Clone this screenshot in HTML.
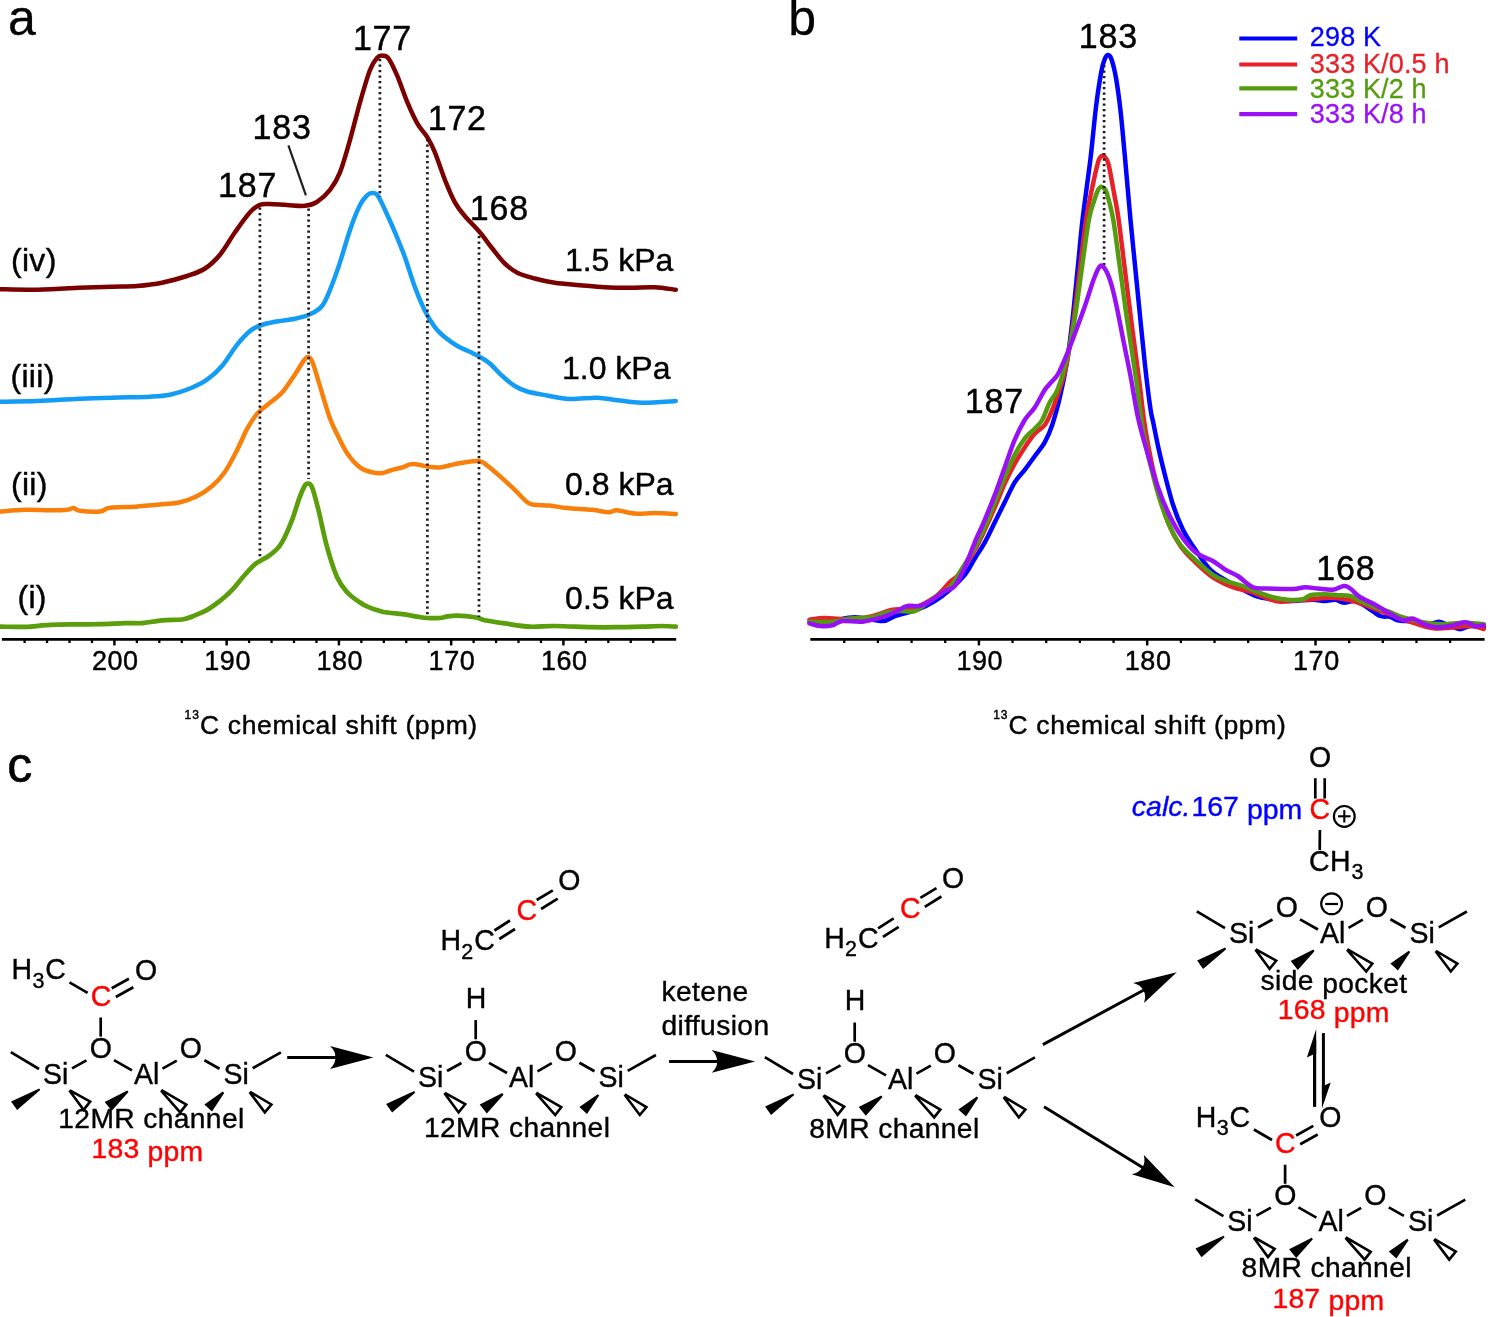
<!DOCTYPE html>
<html lang="en"><head><meta charset="utf-8"><title>13C NMR spectra and ketene reaction scheme</title>
<style>
html,body{margin:0;padding:0;background:#fff;}
body{width:1490px;height:1317px;overflow:hidden;}
svg{display:block;}
svg text{font-family:"Liberation Sans", Arial, Helvetica, sans-serif;}
</style></head><body>
<svg width="1490" height="1317" viewBox="0 0 1490 1317">
<rect width="1490" height="1317" fill="#fff"/>
<g opacity="0.999">
<g id="panelA">
<path d="M0.0,626.6C4.2,626.6 16.7,627.2 25.0,626.9C33.3,626.6 41.7,625.3 50.0,624.9C58.3,624.5 66.7,624.5 75.0,624.4C83.3,624.3 91.7,624.3 100.0,624.1C108.3,623.9 118.0,623.3 125.0,623.1C132.1,622.9 136.1,623.6 142.3,623.1C148.5,622.6 155.4,621.0 162.3,620.4C169.2,619.8 178.1,620.0 183.5,619.2C188.9,618.4 190.9,617.0 194.8,615.4C198.8,613.8 203.0,612.3 207.2,609.9C211.3,607.5 215.5,604.5 219.7,601.2C223.9,597.9 228.0,594.3 232.2,589.9C236.4,585.5 240.9,579.2 244.7,575.0C248.4,570.8 252.0,566.9 254.7,564.5C257.4,562.1 258.8,561.8 260.9,560.5C263.0,559.2 264.9,558.5 267.2,557.0C269.5,555.5 272.2,553.7 274.7,551.2C277.2,548.7 279.2,547.4 282.1,542.2C285.0,537.0 289.2,527.3 292.1,519.8C295.0,512.3 297.5,502.9 299.6,497.3C301.7,491.7 303.3,488.3 304.6,486.0C305.9,483.7 306.4,483.4 307.6,483.6C308.9,483.8 310.3,482.9 312.1,487.3C313.9,491.7 315.9,499.8 318.4,509.8C320.9,519.8 324.0,536.0 327.1,547.2C330.2,558.4 333.8,569.7 337.1,577.2C340.4,584.7 343.4,588.0 347.1,592.2C350.9,596.4 356.2,599.8 359.6,602.2C363.0,604.6 363.7,605.1 367.5,606.7C371.3,608.3 376.6,610.5 382.4,611.7C388.2,613.0 396.6,613.4 402.4,614.2C408.2,615.0 413.2,616.1 417.4,616.7C421.6,617.3 423.6,617.8 427.4,618.0C431.1,618.2 436.6,618.3 439.9,618.0C443.2,617.7 444.5,616.8 447.4,616.4C450.3,616.0 452.7,615.6 457.3,615.7C461.9,615.8 470.2,616.5 474.8,617.2C479.4,618.0 479.8,619.2 484.8,620.2C489.8,621.2 497.3,622.3 504.8,623.4C512.3,624.5 521.5,626.3 529.8,626.7C538.1,627.1 544.3,625.9 554.7,626.0C565.1,626.1 581.8,627.0 592.2,627.2C602.6,627.4 608.8,627.3 617.1,627.2C625.4,627.1 634.6,626.9 642.1,626.7C649.6,626.5 656.5,626.0 662.1,626.0C667.7,626.0 673.5,626.6 675.8,626.7" fill="none" stroke="#5a9e0c" stroke-width="4.7" stroke-linecap="round" stroke-linejoin="round"/>
<path d="M0.0,511.5C4.2,511.2 16.7,510.0 25.0,509.8C33.3,509.6 42.9,510.3 50.0,510.3C57.1,510.3 63.5,510.2 67.4,509.8C71.4,509.4 71.6,507.8 73.7,508.0C75.8,508.2 75.6,510.2 80.0,510.8C84.4,511.4 95.0,512.0 100.0,511.5C105.0,511.0 103.8,508.6 110.0,507.8C116.2,507.0 128.6,507.1 137.3,506.5C146.0,505.9 155.2,505.0 162.3,504.3C169.4,503.6 174.2,503.7 180.0,502.3C185.8,500.9 191.9,498.7 197.3,496.0C202.7,493.3 207.6,489.9 212.2,486.0C216.8,482.1 220.5,478.3 224.7,472.3C228.9,466.3 233.4,457.2 237.2,449.9C240.9,442.6 243.9,434.7 247.2,428.6C250.5,422.6 253.9,417.6 257.2,413.6C260.5,409.7 263.0,408.4 267.2,404.9C271.4,401.4 277.5,397.4 282.1,392.4C286.7,387.4 291.1,380.1 294.6,374.9C298.2,369.7 301.2,364.2 303.4,361.2C305.6,358.2 306.2,357.0 307.6,357.0C309.1,357.0 310.1,356.6 312.1,361.2C314.1,365.8 316.7,375.5 319.6,384.9C322.5,394.3 326.6,409.0 329.6,417.4C332.6,425.8 334.5,428.9 337.5,435.0C340.5,441.1 343.8,448.3 347.5,453.7C351.2,459.1 355.9,464.3 360.0,467.4C364.1,470.5 368.7,471.5 372.4,472.4C376.1,473.3 379.1,473.4 382.4,473.0C385.7,472.6 389.1,470.8 392.4,469.9C395.7,469.0 399.5,468.3 402.4,467.4C405.3,466.5 407.5,464.9 410.0,464.4C412.5,463.9 414.5,464.0 417.4,464.4C420.3,464.8 423.6,466.1 427.4,466.6C431.1,467.1 435.3,467.8 439.9,467.4C444.5,467.0 450.2,465.0 454.8,464.1C459.4,463.2 463.3,462.4 467.3,461.9C471.3,461.4 476.1,460.8 479.0,461.1C481.9,461.4 481.3,461.1 484.8,463.6C488.3,466.1 494.8,471.7 499.8,476.1C504.8,480.5 510.2,485.5 514.8,489.9C519.4,494.3 524.0,499.8 527.3,502.3C530.6,504.8 531.0,504.2 534.7,504.8C538.4,505.4 544.3,505.1 549.7,505.6C555.1,506.2 560.1,507.4 567.2,508.1C574.3,508.8 585.3,509.1 592.2,509.8C599.1,510.5 604.2,512.2 608.4,512.3C612.5,512.4 612.7,510.1 617.1,510.3C621.5,510.5 628.4,513.1 634.6,513.6C640.9,514.1 647.7,513.0 654.6,513.1C661.5,513.2 672.3,513.9 675.8,514.1" fill="none" stroke="#f8800a" stroke-width="4.5" stroke-linecap="round" stroke-linejoin="round"/>
<path d="M0.0,401.7C6.2,401.6 25.0,401.4 37.5,401.0C50.0,400.6 62.5,399.6 75.0,399.0C87.5,398.4 99.9,398.1 112.4,397.7C124.9,397.3 140.4,397.2 150.0,396.7C159.6,396.2 163.3,396.1 170.0,394.7C176.7,393.3 183.8,391.0 190.0,388.5C196.2,386.0 201.7,383.4 207.0,379.7C212.3,375.9 217.0,371.8 222.0,366.0C227.0,360.2 232.3,350.6 237.0,344.8C241.7,339.0 246.2,334.2 250.0,331.0C253.8,327.8 255.8,327.1 260.0,325.6C264.2,324.1 269.2,322.9 275.0,321.8C280.8,320.7 289.2,320.1 295.0,318.8C300.8,317.6 305.5,316.4 310.0,314.3C314.5,312.2 318.7,310.1 322.0,306.0C325.3,301.9 327.0,297.2 330.0,289.9C333.0,282.6 336.7,272.4 340.0,262.4C343.3,252.4 346.7,239.5 350.0,229.9C353.3,220.3 357.1,210.8 360.0,205.0C362.9,199.2 365.5,197.0 367.5,195.0C369.5,193.0 370.4,193.0 372.0,193.0C373.6,193.0 375.2,192.2 377.4,195.0C379.6,197.8 382.1,203.8 385.0,210.0C387.9,216.2 391.7,224.5 395.0,232.4C398.3,240.3 401.7,248.2 405.0,257.4C408.3,266.6 411.7,278.5 415.0,287.4C418.3,296.3 421.7,304.4 425.0,311.0C428.3,317.6 431.7,322.9 435.0,327.3C438.3,331.7 441.3,334.2 445.0,337.3C448.7,340.4 453.3,343.6 457.4,346.0C461.5,348.4 466.1,350.0 469.8,351.8C473.5,353.6 476.5,354.9 479.8,356.8C483.1,358.8 486.1,360.3 489.8,363.5C493.6,366.7 498.1,372.2 502.3,376.0C506.5,379.8 510.6,383.4 514.8,386.0C519.0,388.6 521.9,389.9 527.3,391.5C532.7,393.1 540.1,394.2 547.2,395.5C554.3,396.8 561.4,398.6 569.7,399.0C578.0,399.4 589.3,397.5 597.2,397.7C605.1,397.9 609.5,399.4 617.0,400.2C624.5,401.0 632.2,402.6 642.0,402.7C651.8,402.8 670.2,401.3 675.8,401.0" fill="none" stroke="#129cf5" stroke-width="4.5" stroke-linecap="round" stroke-linejoin="round"/>
<path d="M0.0,289.2C5.4,289.3 20.0,289.9 32.5,289.7C45.0,289.5 61.8,288.5 75.0,288.0C88.2,287.5 101.7,287.0 112.0,286.7C122.3,286.4 128.7,286.7 137.0,286.0C145.3,285.3 153.7,284.4 162.0,282.7C170.3,281.0 179.8,278.4 187.0,276.0C194.2,273.6 199.5,272.1 205.0,268.5C210.5,264.9 215.0,260.7 220.0,254.7C225.0,248.7 230.0,239.4 235.0,232.3C240.0,225.2 245.8,216.9 250.0,212.3C254.2,207.7 256.7,206.2 260.0,204.8C263.3,203.4 265.5,204.0 270.0,204.0C274.5,204.0 281.2,204.7 287.0,205.0C292.8,205.3 300.0,206.3 305.0,205.8C310.0,205.3 312.8,204.5 317.0,201.8C321.2,199.1 326.2,194.7 330.0,189.8C333.8,184.9 336.7,180.6 340.0,172.3C343.3,164.0 346.7,151.6 350.0,139.9C353.3,128.2 356.7,114.1 360.0,102.4C363.3,90.8 367.1,77.5 370.0,70.0C372.9,62.5 375.2,59.9 377.4,57.5C379.6,55.1 381.1,55.5 383.0,55.7C384.9,55.9 386.3,55.3 388.7,58.7C391.1,62.1 394.3,68.9 397.4,76.2C400.5,83.5 404.1,94.5 407.4,102.4C410.7,110.3 414.1,117.8 417.4,123.6C420.7,129.4 424.5,132.6 427.4,137.4C430.3,142.2 432.0,145.3 434.9,152.4C437.8,159.5 441.6,171.5 444.9,179.8C448.2,188.1 451.6,196.3 454.9,202.3C458.2,208.3 460.6,211.0 464.8,216.0C469.0,221.0 475.2,226.9 479.8,232.3C484.4,237.7 488.1,243.3 492.3,248.5C496.5,253.7 500.6,259.5 504.8,263.5C509.0,267.5 512.3,270.2 517.3,272.7C522.3,275.2 528.5,276.8 534.7,278.5C540.9,280.2 547.2,281.6 554.7,282.7C562.2,283.8 571.4,284.4 579.7,285.2C588.0,285.9 596.4,286.8 604.7,287.2C613.0,287.6 621.3,287.7 629.6,287.7C637.9,287.7 646.9,286.9 654.6,287.2C662.3,287.5 672.3,289.3 675.8,289.7" fill="none" stroke="#7b0000" stroke-width="4.5" stroke-linecap="round" stroke-linejoin="round"/>
<line x1="259.9" y1="207.5" x2="259.9" y2="557" stroke="#1f1a1b" stroke-width="2.7" stroke-dasharray="2.3 3.2"/>
<line x1="308.6" y1="208.5" x2="308.6" y2="479" stroke="#1f1a1b" stroke-width="2.7" stroke-dasharray="2.3 3.2"/>
<line x1="379.9" y1="59" x2="379.9" y2="197" stroke="#1f1a1b" stroke-width="2.7" stroke-dasharray="2.3 3.2"/>
<line x1="427.4" y1="139" x2="427.4" y2="616" stroke="#1f1a1b" stroke-width="2.7" stroke-dasharray="2.3 3.2"/>
<line x1="479" y1="236" x2="479" y2="617" stroke="#1f1a1b" stroke-width="2.7" stroke-dasharray="2.3 3.2"/>
<line x1="288.4" y1="145.4" x2="305.9" y2="195.3" stroke="#231f20" stroke-width="2.2"/>
<line x1="1.9" y1="639.45" x2="676.2" y2="639.45" stroke="#000" stroke-width="2.7"/>
<line x1="24.60" y1="639.45" x2="24.60" y2="643.0500000000001" stroke="#000" stroke-width="2.3"/>
<line x1="47.05" y1="639.45" x2="47.05" y2="643.0500000000001" stroke="#000" stroke-width="2.3"/>
<line x1="69.50" y1="639.45" x2="69.50" y2="643.0500000000001" stroke="#000" stroke-width="2.3"/>
<line x1="91.95" y1="639.45" x2="91.95" y2="643.0500000000001" stroke="#000" stroke-width="2.3"/>
<line x1="114.40" y1="639.45" x2="114.40" y2="645.45" stroke="#000" stroke-width="2.5"/>
<line x1="136.85" y1="639.45" x2="136.85" y2="643.0500000000001" stroke="#000" stroke-width="2.3"/>
<line x1="159.30" y1="639.45" x2="159.30" y2="643.0500000000001" stroke="#000" stroke-width="2.3"/>
<line x1="181.75" y1="639.45" x2="181.75" y2="643.0500000000001" stroke="#000" stroke-width="2.3"/>
<line x1="204.20" y1="639.45" x2="204.20" y2="643.0500000000001" stroke="#000" stroke-width="2.3"/>
<line x1="226.65" y1="639.45" x2="226.65" y2="645.45" stroke="#000" stroke-width="2.5"/>
<line x1="249.10" y1="639.45" x2="249.10" y2="643.0500000000001" stroke="#000" stroke-width="2.3"/>
<line x1="271.55" y1="639.45" x2="271.55" y2="643.0500000000001" stroke="#000" stroke-width="2.3"/>
<line x1="294.00" y1="639.45" x2="294.00" y2="643.0500000000001" stroke="#000" stroke-width="2.3"/>
<line x1="316.45" y1="639.45" x2="316.45" y2="643.0500000000001" stroke="#000" stroke-width="2.3"/>
<line x1="338.90" y1="639.45" x2="338.90" y2="645.45" stroke="#000" stroke-width="2.5"/>
<line x1="361.35" y1="639.45" x2="361.35" y2="643.0500000000001" stroke="#000" stroke-width="2.3"/>
<line x1="383.80" y1="639.45" x2="383.80" y2="643.0500000000001" stroke="#000" stroke-width="2.3"/>
<line x1="406.25" y1="639.45" x2="406.25" y2="643.0500000000001" stroke="#000" stroke-width="2.3"/>
<line x1="428.70" y1="639.45" x2="428.70" y2="643.0500000000001" stroke="#000" stroke-width="2.3"/>
<line x1="451.15" y1="639.45" x2="451.15" y2="645.45" stroke="#000" stroke-width="2.5"/>
<line x1="473.60" y1="639.45" x2="473.60" y2="643.0500000000001" stroke="#000" stroke-width="2.3"/>
<line x1="496.05" y1="639.45" x2="496.05" y2="643.0500000000001" stroke="#000" stroke-width="2.3"/>
<line x1="518.50" y1="639.45" x2="518.50" y2="643.0500000000001" stroke="#000" stroke-width="2.3"/>
<line x1="540.95" y1="639.45" x2="540.95" y2="643.0500000000001" stroke="#000" stroke-width="2.3"/>
<line x1="563.40" y1="639.45" x2="563.40" y2="645.45" stroke="#000" stroke-width="2.5"/>
<line x1="585.85" y1="639.45" x2="585.85" y2="643.0500000000001" stroke="#000" stroke-width="2.3"/>
<line x1="608.30" y1="639.45" x2="608.30" y2="643.0500000000001" stroke="#000" stroke-width="2.3"/>
<line x1="630.75" y1="639.45" x2="630.75" y2="643.0500000000001" stroke="#000" stroke-width="2.3"/>
<line x1="653.20" y1="639.45" x2="653.20" y2="643.0500000000001" stroke="#000" stroke-width="2.3"/>
<text transform="translate(115.3,670.0) scale(1,1.01)" font-size="27" fill="#000" stroke="#000" stroke-width="0.45" text-anchor="middle" letter-spacing="0.6">200</text>
<text transform="translate(227.6,670.0) scale(1,1.01)" font-size="27" fill="#000" stroke="#000" stroke-width="0.45" text-anchor="middle" letter-spacing="0.6">190</text>
<text transform="translate(339.8,670.0) scale(1,1.01)" font-size="27" fill="#000" stroke="#000" stroke-width="0.45" text-anchor="middle" letter-spacing="0.6">180</text>
<text transform="translate(452.0,670.0) scale(1,1.01)" font-size="27" fill="#000" stroke="#000" stroke-width="0.45" text-anchor="middle" letter-spacing="0.6">170</text>
<text transform="translate(564.3,670.0) scale(1,1.01)" font-size="27" fill="#000" stroke="#000" stroke-width="0.45" text-anchor="middle" letter-spacing="0.6">160</text>
<text transform="translate(252.6,139.0) scale(1,1.04)" font-size="34" fill="#000" stroke="#000" stroke-width="0.45" letter-spacing="0.8">183</text>
<text transform="translate(218.0,197.2) scale(1,1.04)" font-size="34" fill="#000" stroke="#000" stroke-width="0.45" letter-spacing="0.8">187</text>
<text transform="translate(352.9,49.9) scale(1,1.04)" font-size="34" fill="#000" stroke="#000" stroke-width="0.45" letter-spacing="0.8">177</text>
<text transform="translate(427.7,130.3) scale(1,1.04)" font-size="34" fill="#000" stroke="#000" stroke-width="0.45" letter-spacing="0.8">172</text>
<text transform="translate(469.8,220.3) scale(1,1.04)" font-size="34" fill="#000" stroke="#000" stroke-width="0.45" letter-spacing="0.8">168</text>
<text x="11.0" y="271.0" font-size="32" fill="#000" stroke="#000" stroke-width="0.45" letter-spacing="0.3">(iv)</text>
<text x="10.5" y="386.5" font-size="32" fill="#000" stroke="#000" stroke-width="0.45" letter-spacing="0.3">(iii)</text>
<text x="11.0" y="494.7" font-size="32" fill="#000" stroke="#000" stroke-width="0.45" letter-spacing="0.3">(ii)</text>
<text x="17.5" y="608.3" font-size="32" fill="#000" stroke="#000" stroke-width="0.45" letter-spacing="0.3">(i)</text>
<text x="673.4" y="270.8" font-size="32" fill="#000" stroke="#000" stroke-width="0.45" text-anchor="end">1.5 kPa</text>
<text x="670.5" y="379.3" font-size="32" fill="#000" stroke="#000" stroke-width="0.45" text-anchor="end">1.0 kPa</text>
<text x="673.6" y="494.9" font-size="32" fill="#000" stroke="#000" stroke-width="0.45" text-anchor="end">0.8 kPa</text>
<text x="673.6" y="608.5" font-size="32" fill="#000" stroke="#000" stroke-width="0.45" text-anchor="end">0.5 kPa</text>
<text x="184.6" y="734.3" font-size="26.5" letter-spacing="0.65" stroke="#000" stroke-width="0.45"><tspan font-size="12" dy="-15" letter-spacing="0.9">13</tspan><tspan dy="15" dx="0.2">C chemical shift (ppm)</tspan></text>
</g>
<g id="panelB">
<path d="M809.5,621.7C812.9,621.6 822.4,621.8 830.0,621.0C837.6,620.2 846.3,617.2 855.0,617.2C863.7,617.2 875.7,621.2 882.4,621.0C889.1,620.8 889.2,617.9 895.0,616.0C900.8,614.1 910.8,612.2 917.4,609.7C924.0,607.2 929.4,604.3 934.8,601.0C940.2,597.7 944.8,594.1 949.8,589.7C954.8,585.3 960.6,580.0 964.8,574.8C969.0,569.6 971.5,563.9 974.8,558.5C978.1,553.1 981.5,548.3 984.8,542.3C988.1,536.3 991.5,529.0 994.8,522.3C998.1,515.6 1001.4,508.9 1004.7,502.3C1008.0,495.7 1011.4,487.8 1014.7,482.4C1018.0,477.0 1021.4,474.3 1024.7,469.9C1028.0,465.5 1031.4,460.8 1034.7,456.2C1038.0,451.6 1041.8,447.6 1044.7,442.4C1047.6,437.2 1049.7,432.5 1052.2,425.0C1054.7,417.5 1057.3,408.2 1059.8,397.6C1062.3,387.0 1064.9,374.3 1067.0,361.3C1069.1,348.3 1070.7,335.7 1072.5,319.7C1074.3,303.7 1076.3,281.9 1078.0,265.3C1079.7,248.7 1080.4,237.9 1082.5,220.0C1084.6,202.1 1088.3,176.5 1090.6,157.7C1092.8,138.9 1094.2,121.5 1096.0,107.0C1097.8,92.5 1100.0,78.8 1101.5,70.7C1103.0,62.6 1103.9,61.1 1105.0,58.5C1106.1,55.9 1106.9,54.9 1108.0,55.0C1109.1,55.1 1110.1,55.2 1111.4,59.0C1112.7,62.8 1114.5,69.4 1116.0,78.0C1117.5,86.6 1119.0,97.3 1120.5,110.6C1122.0,123.9 1123.3,139.5 1125.0,157.7C1126.7,175.9 1128.8,202.1 1130.5,220.0C1132.2,237.9 1133.5,250.2 1135.0,265.3C1136.5,280.4 1137.8,294.0 1139.5,310.6C1141.2,327.2 1143.2,348.7 1145.0,365.0C1146.8,381.3 1149.0,398.9 1150.4,408.5C1151.8,418.1 1151.9,416.1 1153.2,422.4C1154.5,428.6 1156.4,438.5 1158.0,446.0C1159.6,453.5 1160.5,457.6 1163.0,467.4C1165.5,477.2 1169.7,494.4 1173.0,504.8C1176.3,515.2 1179.3,522.3 1183.0,529.8C1186.7,537.3 1190.8,543.1 1195.4,549.8C1200.0,556.5 1205.4,564.8 1210.4,569.8C1215.4,574.8 1220.0,576.5 1225.4,579.8C1230.8,583.1 1237.4,586.9 1242.8,589.7C1248.2,592.5 1252.0,595.0 1257.8,596.7C1263.6,598.5 1272.0,599.5 1277.8,600.2C1283.6,600.9 1287.0,601.1 1292.8,601.0C1298.6,600.9 1307.4,599.7 1312.8,599.7C1318.2,599.7 1321.5,601.0 1325.2,601.0C1328.9,601.0 1332.1,599.4 1335.2,599.7C1338.3,600.0 1340.7,602.5 1344.0,602.7C1347.3,602.9 1351.2,600.2 1355.2,601.0C1359.2,601.8 1363.5,605.2 1367.7,607.7C1371.9,610.2 1376.5,614.5 1380.2,616.0C1384.0,617.5 1387.3,616.0 1390.2,616.7C1393.1,617.4 1394.0,619.4 1397.7,620.2C1401.4,621.0 1407.6,621.0 1412.6,621.7C1417.6,622.5 1423.2,624.7 1427.6,624.7C1432.0,624.7 1435.2,621.5 1438.9,621.7C1442.7,621.9 1446.6,624.8 1450.1,626.0C1453.6,627.2 1456.8,629.2 1460.1,629.2C1463.4,629.2 1466.1,626.3 1470.1,626.0C1474.0,625.7 1481.5,627.0 1483.8,627.2" fill="none" stroke="#0000ff" stroke-width="4.5" stroke-linecap="round" stroke-linejoin="round"/>
<path d="M809.5,619.7C812.1,619.4 819.1,618.1 825.0,618.0C830.9,617.9 837.5,619.4 845.0,619.2C852.5,619.0 862.1,618.3 870.0,616.7C877.9,615.1 885.3,611.1 892.4,609.7C899.5,608.3 905.3,610.6 912.4,608.5C919.5,606.4 928.6,601.6 934.8,597.2C941.0,592.8 945.6,586.2 949.8,582.2C954.0,578.2 955.6,578.9 959.8,573.5C964.0,568.1 970.6,557.1 974.8,549.8C979.0,542.5 981.5,536.9 984.8,529.8C988.1,522.7 991.5,515.0 994.8,507.3C998.1,499.6 1001.4,490.9 1004.7,483.6C1008.0,476.3 1011.4,469.6 1014.7,463.6C1018.0,457.6 1021.4,452.4 1024.7,447.4C1028.0,442.4 1031.4,437.4 1034.7,433.7C1038.0,430.0 1041.8,428.9 1044.7,425.0C1047.6,421.1 1050.0,415.2 1052.2,410.0C1054.4,404.8 1055.8,400.6 1058.0,394.0C1060.2,387.4 1062.8,381.3 1065.2,370.4C1067.6,359.5 1070.1,345.3 1072.5,328.7C1074.9,312.1 1077.5,288.8 1079.7,270.7C1082.0,252.6 1083.9,234.0 1086.0,220.0C1088.1,206.0 1090.4,196.2 1092.4,186.7C1094.4,177.2 1096.6,167.8 1097.9,162.8C1099.2,157.9 1099.7,158.2 1100.5,157.0C1101.3,155.8 1102.0,155.3 1102.8,155.4C1103.6,155.5 1104.3,155.9 1105.3,157.5C1106.3,159.1 1107.2,158.9 1108.7,165.0C1110.2,171.1 1112.5,184.8 1114.2,194.0C1115.9,203.2 1116.9,207.2 1118.7,220.0C1120.5,232.8 1122.7,252.6 1125.0,270.7C1127.3,288.8 1129.9,310.0 1132.3,328.7C1134.7,347.4 1137.3,366.1 1139.5,383.0C1141.7,399.9 1142.8,413.9 1145.5,430.0C1148.2,446.1 1151.8,464.5 1155.5,479.9C1159.2,495.3 1163.8,511.3 1168.0,522.3C1172.2,533.3 1175.8,539.3 1180.4,546.0C1185.0,552.7 1190.0,557.1 1195.4,562.3C1200.8,567.5 1206.7,573.1 1212.9,577.3C1219.2,581.4 1226.7,584.8 1232.9,587.2C1239.1,589.6 1244.5,589.8 1250.3,591.7C1256.1,593.6 1262.8,596.8 1267.8,598.5C1272.8,600.2 1275.3,601.4 1280.3,601.7C1285.3,602.0 1292.4,600.6 1297.8,600.2C1303.2,599.8 1307.4,599.6 1312.8,599.2C1318.2,598.8 1324.4,597.6 1330.2,597.7C1336.0,597.8 1342.3,598.6 1347.7,599.7C1353.1,600.8 1357.3,602.3 1362.7,604.2C1368.1,606.1 1374.4,608.8 1380.2,611.0C1386.0,613.2 1391.9,615.1 1397.7,617.2C1403.5,619.3 1408.9,621.5 1415.1,623.4C1421.3,625.3 1428.4,627.8 1435.1,628.4C1441.8,629.0 1448.8,627.6 1455.1,627.2C1461.3,626.8 1467.8,625.7 1472.6,626.0C1477.4,626.3 1481.9,628.5 1483.8,629.0" fill="none" stroke="#e6212a" stroke-width="4.5" stroke-linecap="round" stroke-linejoin="round"/>
<path d="M809.5,621.7C813.3,621.7 825.8,622.2 832.5,621.7C839.2,621.2 843.4,619.2 850.0,618.5C856.6,617.8 866.6,618.1 872.4,617.2C878.2,616.3 880.3,614.0 884.9,613.0C889.5,612.0 894.9,611.3 899.9,611.0C904.9,610.7 909.9,612.7 914.9,611.0C919.9,609.3 924.0,605.0 929.8,601.0C935.6,597.0 944.8,592.0 949.8,587.2C954.8,582.4 955.6,578.9 959.8,572.3C964.0,565.6 970.6,554.8 974.8,547.3C979.0,539.8 981.5,534.8 984.8,527.3C988.1,519.8 991.5,510.6 994.8,502.3C998.1,494.0 1001.4,485.3 1004.7,477.4C1008.0,469.5 1011.4,461.3 1014.7,454.9C1018.0,448.4 1021.4,443.1 1024.7,438.7C1028.0,434.3 1031.8,431.8 1034.7,428.7C1037.6,425.6 1039.7,424.4 1042.2,420.0C1044.7,415.6 1047.1,407.8 1049.7,402.5C1052.3,397.2 1055.1,396.0 1058.0,388.5C1060.9,381.0 1064.3,368.9 1067.0,357.7C1069.7,346.5 1071.9,336.0 1074.3,321.5C1076.7,307.0 1079.1,287.6 1081.5,270.7C1083.9,253.8 1086.7,231.7 1088.8,220.0C1090.9,208.3 1092.7,205.5 1094.2,200.5C1095.7,195.5 1096.9,192.3 1098.0,190.0C1099.1,187.7 1100.0,187.1 1101.0,186.8C1102.0,186.6 1103.0,187.4 1104.0,188.5C1105.0,189.6 1105.5,188.2 1107.0,193.5C1108.5,198.8 1111.2,208.0 1113.3,220.0C1115.4,232.0 1117.3,249.0 1119.6,265.3C1121.8,281.6 1124.1,299.2 1126.8,317.9C1129.5,336.6 1133.2,358.9 1135.9,377.6C1138.6,396.3 1139.7,412.1 1143.0,430.0C1146.3,447.9 1151.3,469.5 1155.5,484.9C1159.7,500.3 1163.8,512.3 1168.0,522.3C1172.2,532.3 1175.8,538.5 1180.4,544.8C1185.0,551.0 1190.0,554.8 1195.4,559.8C1200.8,564.8 1207.5,571.1 1212.9,574.8C1218.3,578.4 1222.9,579.8 1227.9,581.7C1232.9,583.6 1237.8,584.2 1242.8,586.0C1247.8,587.8 1252.8,590.3 1257.8,592.2C1262.8,594.1 1267.8,596.0 1272.8,597.2C1277.8,598.5 1282.8,599.4 1287.8,599.7C1292.8,600.0 1299.0,600.0 1302.8,599.2C1306.5,598.5 1306.6,596.0 1310.3,595.2C1314.0,594.4 1320.6,594.2 1325.2,594.2C1329.8,594.2 1333.5,594.9 1337.7,595.2C1341.9,595.5 1346.5,595.0 1350.2,596.0C1354.0,597.0 1356.0,599.1 1360.2,601.0C1364.4,602.9 1370.2,605.3 1375.2,607.2C1380.2,609.1 1385.6,610.5 1390.2,612.2C1394.8,613.9 1397.2,615.5 1402.6,617.2C1408.0,618.9 1415.9,621.0 1422.6,622.2C1429.3,623.4 1435.9,624.1 1442.6,624.2C1449.3,624.3 1455.7,622.7 1462.6,622.7C1469.5,622.7 1480.3,624.0 1483.8,624.2" fill="none" stroke="#559b10" stroke-width="4.5" stroke-linecap="round" stroke-linejoin="round"/>
<line x1="1104.1" y1="65" x2="1104.1" y2="268" stroke="#1f1a1b" stroke-width="2.7" stroke-dasharray="2.3 3.2"/>
<path d="M809.5,623.4C811.2,623.8 816.2,625.7 820.0,626.0C823.8,626.3 828.8,626.0 832.5,625.2C836.2,624.4 837.4,621.6 842.4,621.0C847.4,620.4 855.7,622.3 862.4,621.7C869.1,621.1 877.0,618.8 882.4,617.2C887.8,615.6 890.7,614.1 894.9,612.2C899.1,610.3 903.2,607.0 907.4,606.0C911.6,605.0 915.8,607.0 919.9,606.0C924.0,605.0 928.1,602.2 932.3,599.7C936.4,597.2 941.0,593.3 944.8,591.0C948.5,588.7 951.5,590.0 954.8,586.0C958.1,582.0 961.5,574.6 964.8,567.3C968.1,560.0 971.5,550.2 974.8,542.3C978.1,534.4 981.5,527.7 984.8,519.8C988.1,511.9 991.5,503.6 994.8,494.9C998.1,486.2 1001.4,476.6 1004.7,467.4C1008.0,458.2 1011.4,447.8 1014.7,439.9C1018.0,432.0 1021.4,425.4 1024.7,420.0C1028.0,414.6 1031.4,412.5 1034.7,407.5C1038.0,402.5 1041.8,394.4 1044.7,390.0C1047.6,385.6 1050.0,383.9 1052.2,381.2C1054.4,378.5 1055.5,378.5 1058.0,374.0C1060.5,369.5 1064.0,361.2 1067.0,354.0C1070.0,346.8 1073.0,338.6 1076.0,330.5C1079.0,322.4 1082.2,313.9 1085.2,305.2C1088.2,296.4 1091.7,284.5 1094.2,278.0C1096.7,271.5 1098.2,267.7 1100.0,266.2C1101.8,264.7 1103.2,266.4 1105.0,269.0C1106.8,271.6 1108.7,275.9 1110.5,281.6C1112.3,287.3 1113.9,293.7 1116.0,303.4C1118.1,313.1 1120.8,327.5 1123.2,339.6C1125.6,351.7 1128.0,362.8 1130.5,375.8C1133.0,388.8 1135.1,404.3 1138.0,417.5C1140.9,430.7 1144.7,443.4 1148.0,455.0C1151.3,466.6 1154.7,477.8 1158.0,487.4C1161.3,496.9 1164.3,504.4 1168.0,512.3C1171.7,520.2 1175.8,528.1 1180.4,534.8C1185.0,541.5 1190.0,547.9 1195.4,552.3C1200.8,556.7 1207.9,558.1 1212.9,561.0C1217.9,563.9 1221.2,567.3 1225.4,569.8C1229.6,572.3 1233.2,573.1 1237.8,576.0C1242.4,578.9 1247.8,585.1 1252.8,587.2C1257.8,589.3 1261.1,588.2 1267.8,588.5C1274.5,588.8 1286.5,589.2 1292.8,589.0C1299.0,588.8 1301.1,587.3 1305.3,587.2C1309.5,587.1 1313.2,588.1 1317.8,588.5C1322.4,588.9 1328.3,590.1 1332.7,589.7C1337.1,589.3 1341.1,586.2 1344.0,586.0C1346.9,585.8 1347.5,586.6 1350.2,588.5C1352.9,590.4 1356.0,594.5 1360.2,597.2C1364.4,599.9 1370.6,602.2 1375.2,604.7C1379.8,607.2 1383.1,609.6 1387.7,612.2C1392.3,614.8 1398.4,619.2 1402.6,620.2C1406.8,621.2 1409.3,618.0 1412.6,618.5C1415.9,619.0 1418.8,621.9 1422.6,623.4C1426.3,624.9 1430.5,626.8 1435.1,627.2C1439.7,627.6 1445.1,626.8 1450.1,626.0C1455.1,625.2 1460.9,622.2 1465.1,622.2C1469.2,622.2 1471.9,625.5 1475.0,626.0C1478.1,626.5 1482.3,625.3 1483.8,625.2" fill="none" stroke="#9a10f5" stroke-width="4.5" stroke-linecap="round" stroke-linejoin="round"/>
<line x1="810.3" y1="639.45" x2="1484.6" y2="639.45" stroke="#000" stroke-width="2.7"/>
<line x1="844.26" y1="639.45" x2="844.26" y2="643.0500000000001" stroke="#000" stroke-width="2.3"/>
<line x1="877.92" y1="639.45" x2="877.92" y2="643.0500000000001" stroke="#000" stroke-width="2.3"/>
<line x1="911.58" y1="639.45" x2="911.58" y2="643.0500000000001" stroke="#000" stroke-width="2.3"/>
<line x1="945.24" y1="639.45" x2="945.24" y2="643.0500000000001" stroke="#000" stroke-width="2.3"/>
<line x1="978.90" y1="639.45" x2="978.90" y2="645.45" stroke="#000" stroke-width="2.5"/>
<line x1="1012.56" y1="639.45" x2="1012.56" y2="643.0500000000001" stroke="#000" stroke-width="2.3"/>
<line x1="1046.22" y1="639.45" x2="1046.22" y2="643.0500000000001" stroke="#000" stroke-width="2.3"/>
<line x1="1079.88" y1="639.45" x2="1079.88" y2="643.0500000000001" stroke="#000" stroke-width="2.3"/>
<line x1="1113.54" y1="639.45" x2="1113.54" y2="643.0500000000001" stroke="#000" stroke-width="2.3"/>
<line x1="1147.20" y1="639.45" x2="1147.20" y2="645.45" stroke="#000" stroke-width="2.5"/>
<line x1="1180.86" y1="639.45" x2="1180.86" y2="643.0500000000001" stroke="#000" stroke-width="2.3"/>
<line x1="1214.52" y1="639.45" x2="1214.52" y2="643.0500000000001" stroke="#000" stroke-width="2.3"/>
<line x1="1248.18" y1="639.45" x2="1248.18" y2="643.0500000000001" stroke="#000" stroke-width="2.3"/>
<line x1="1281.84" y1="639.45" x2="1281.84" y2="643.0500000000001" stroke="#000" stroke-width="2.3"/>
<line x1="1315.50" y1="639.45" x2="1315.50" y2="645.45" stroke="#000" stroke-width="2.5"/>
<line x1="1349.16" y1="639.45" x2="1349.16" y2="643.0500000000001" stroke="#000" stroke-width="2.3"/>
<line x1="1382.82" y1="639.45" x2="1382.82" y2="643.0500000000001" stroke="#000" stroke-width="2.3"/>
<line x1="1416.48" y1="639.45" x2="1416.48" y2="643.0500000000001" stroke="#000" stroke-width="2.3"/>
<line x1="1450.14" y1="639.45" x2="1450.14" y2="643.0500000000001" stroke="#000" stroke-width="2.3"/>
<text transform="translate(979.8,670.0) scale(1,1.01)" font-size="27" fill="#000" stroke="#000" stroke-width="0.45" text-anchor="middle" letter-spacing="0.6">190</text>
<text transform="translate(1148.1,670.0) scale(1,1.01)" font-size="27" fill="#000" stroke="#000" stroke-width="0.45" text-anchor="middle" letter-spacing="0.6">180</text>
<text transform="translate(1316.4,670.0) scale(1,1.01)" font-size="27" fill="#000" stroke="#000" stroke-width="0.45" text-anchor="middle" letter-spacing="0.6">170</text>
<text transform="translate(1078.8,48.4) scale(1,1.04)" font-size="34" fill="#000" stroke="#000" stroke-width="0.45" letter-spacing="0.8">183</text>
<text transform="translate(964.8,412.8) scale(1,1.04)" font-size="34" fill="#000" stroke="#000" stroke-width="0.45" letter-spacing="0.8">187</text>
<text transform="translate(1316.3,580.1) scale(1,1.04)" font-size="34" fill="#000" stroke="#000" stroke-width="0.45" letter-spacing="0.8">168</text>
<line x1="1239.3" y1="38.5" x2="1297.2" y2="38.5" stroke="#0000ff" stroke-width="4.2"/>
<text x="1309.8" y="46.2" font-size="27" fill="#0000ff" stroke="#0000ff" stroke-width="0.3" letter-spacing="0.15">298 K</text>
<line x1="1239.3" y1="64.5" x2="1297.2" y2="64.5" stroke="#e6212a" stroke-width="4.2"/>
<text x="1309.8" y="73.3" font-size="27" fill="#e6212a" stroke="#e6212a" stroke-width="0.3" letter-spacing="0.15">333 K/0.5 h</text>
<line x1="1239.3" y1="88.4" x2="1297.2" y2="88.4" stroke="#559b10" stroke-width="4.2"/>
<text x="1309.8" y="98.0" font-size="27" fill="#559b10" stroke="#559b10" stroke-width="0.3" letter-spacing="0.15">333 K/2 h</text>
<line x1="1239.3" y1="114.2" x2="1297.2" y2="114.2" stroke="#9a10f5" stroke-width="4.2"/>
<text x="1309.8" y="122.7" font-size="27" fill="#9a10f5" stroke="#9a10f5" stroke-width="0.3" letter-spacing="0.15">333 K/8 h</text>
<text x="993.2" y="734.3" font-size="26.5" letter-spacing="0.65" stroke="#000" stroke-width="0.45"><tspan font-size="12" dy="-15" letter-spacing="0.9">13</tspan><tspan dy="15" dx="0.2">C chemical shift (ppm)</tspan></text>
</g>
<text x="8.0" y="35.2" font-size="50" fill="#000" stroke="#000" stroke-width="0.3">a</text>
<text x="788.3" y="35.2" font-size="50" fill="#000" stroke="#000" stroke-width="0.3">b</text>
<text x="7.3" y="782.4" font-size="50" fill="#000" stroke="#000" stroke-width="0.55">c</text>
<g id="panelC">
<g transform="translate(-375.0,-2.6)">
<text transform="translate(417.9,1086.5) scale(1,1.045)" font-size="28.5" fill="#000" stroke="#000" stroke-width="0.4">Si</text>
<text transform="translate(475.9,1060.7) scale(1,1.045)" font-size="28.5" fill="#000" stroke="#000" stroke-width="0.4" text-anchor="middle">O</text>
<text transform="translate(509.0,1086.5) scale(1,1.045)" font-size="28.5" fill="#000" stroke="#000" stroke-width="0.4">Al</text>
<text transform="translate(565.9,1060.7) scale(1,1.045)" font-size="28.5" fill="#000" stroke="#000" stroke-width="0.4" text-anchor="middle">O</text>
<text transform="translate(598.5,1086.5) scale(1,1.045)" font-size="28.5" fill="#000" stroke="#000" stroke-width="0.4">Si</text>
<line x1="385.8" y1="1054.8" x2="414.0" y2="1071.6" stroke="#000" stroke-width="2.7"/>
<line x1="447.0" y1="1071.0" x2="461.5" y2="1063.0" stroke="#000" stroke-width="2.7"/>
<line x1="489.0" y1="1062.8" x2="507.0" y2="1073.0" stroke="#000" stroke-width="2.7"/>
<line x1="537.5" y1="1071.3" x2="551.8" y2="1063.2" stroke="#000" stroke-width="2.7"/>
<line x1="579.4" y1="1062.8" x2="594.5" y2="1071.3" stroke="#000" stroke-width="2.7"/>
<line x1="627.7" y1="1070.9" x2="655.9" y2="1055.0" stroke="#000" stroke-width="2.7"/>
<polygon points="414.2,1091.1 386.1,1104.0 392.1,1112.6 415.2,1092.7" fill="#000"/>
<polygon points="445.8,1093.4 465.2,1104.2 458.6,1112.4 445.1,1094.1" fill="none" stroke="#000" stroke-width="2.6" stroke-linejoin="miter"/>
<polygon points="502.3,1093.1 479.7,1104.6 486.8,1113.4 503.5,1094.7" fill="#000"/>
<polygon points="537.4,1093.3 561.3,1107.2 555.2,1115.0 536.8,1094.1" fill="none" stroke="#000" stroke-width="2.6" stroke-linejoin="miter"/>
<polygon points="597.8,1094.2 579.4,1107.0 587.0,1114.0 599.2,1095.6" fill="#000"/>
<polygon points="626.0,1095.0 646.4,1107.1 639.8,1115.0 625.3,1095.7" fill="none" stroke="#000" stroke-width="2.6" stroke-linejoin="miter"/>
</g>
<g transform="translate(0.0,0.0)">
<text transform="translate(101.0,1006.2) scale(1,1.045)" font-size="28.5" fill="#ff0000" stroke="#ff0000" stroke-width="0.4" text-anchor="middle">C</text>
<text transform="translate(146.0,980.0) scale(1,1.045)" font-size="28.5" fill="#000" stroke="#000" stroke-width="0.4" text-anchor="middle">O</text>
<text transform="translate(11.4,979.3) scale(1,1.045)" font-size="28.5" fill="#000" stroke="#000" stroke-width="0.4">H<tspan font-size="21.5" dy="8.6" dx="0.4">3</tspan><tspan dy="-8.6" dx="0.9">C</tspan></text>
<line x1="69.5" y1="982.3" x2="87.6" y2="992.8" stroke="#000" stroke-width="2.7"/>
<line x1="111.7" y1="988.3" x2="128.9" y2="978.7" stroke="#000" stroke-width="2.7"/>
<line x1="115.8" y1="997.0" x2="133.3" y2="987.3" stroke="#000" stroke-width="2.7"/>
<line x1="100.7" y1="1017.5" x2="100.7" y2="1036.6" stroke="#000" stroke-width="2.7"/>
</g>
<text x="58.3" y="1128.3" font-size="28.2" letter-spacing="0.38" fill="#000" stroke="#000" stroke-width="0.4">12MR channel</text>
<text x="91.5" y="1158.4" font-size="28.4" letter-spacing="0.2" fill="#ff0000" stroke="#ff0000" stroke-width="0.4">183 <tspan dy="2.6">ppm</tspan></text>
<g transform="translate(373.4,1057.5) rotate(0.00)">
<line x1="-86.2" y1="0" x2="-30" y2="0" stroke="#000" stroke-width="3.0"/>
<path d="M0,0 L-43.4,-11.4 Q-37.7,-6.1 -38,0 Q-37.7,6.1 -43.4,11.4 Z" fill="#000"/>
</g>
<g transform="translate(0.0,0.0)">
<text transform="translate(417.9,1086.5) scale(1,1.045)" font-size="28.5" fill="#000" stroke="#000" stroke-width="0.4">Si</text>
<text transform="translate(475.9,1060.7) scale(1,1.045)" font-size="28.5" fill="#000" stroke="#000" stroke-width="0.4" text-anchor="middle">O</text>
<text transform="translate(509.0,1086.5) scale(1,1.045)" font-size="28.5" fill="#000" stroke="#000" stroke-width="0.4">Al</text>
<text transform="translate(565.9,1060.7) scale(1,1.045)" font-size="28.5" fill="#000" stroke="#000" stroke-width="0.4" text-anchor="middle">O</text>
<text transform="translate(598.5,1086.5) scale(1,1.045)" font-size="28.5" fill="#000" stroke="#000" stroke-width="0.4">Si</text>
<line x1="385.8" y1="1054.8" x2="414.0" y2="1071.6" stroke="#000" stroke-width="2.7"/>
<line x1="447.0" y1="1071.0" x2="461.5" y2="1063.0" stroke="#000" stroke-width="2.7"/>
<line x1="489.0" y1="1062.8" x2="507.0" y2="1073.0" stroke="#000" stroke-width="2.7"/>
<line x1="537.5" y1="1071.3" x2="551.8" y2="1063.2" stroke="#000" stroke-width="2.7"/>
<line x1="579.4" y1="1062.8" x2="594.5" y2="1071.3" stroke="#000" stroke-width="2.7"/>
<line x1="627.7" y1="1070.9" x2="655.9" y2="1055.0" stroke="#000" stroke-width="2.7"/>
<polygon points="414.2,1091.1 386.1,1104.0 392.1,1112.6 415.2,1092.7" fill="#000"/>
<polygon points="445.8,1093.4 465.2,1104.2 458.6,1112.4 445.1,1094.1" fill="none" stroke="#000" stroke-width="2.6" stroke-linejoin="miter"/>
<polygon points="502.3,1093.1 479.7,1104.6 486.8,1113.4 503.5,1094.7" fill="#000"/>
<polygon points="537.4,1093.3 561.3,1107.2 555.2,1115.0 536.8,1094.1" fill="none" stroke="#000" stroke-width="2.6" stroke-linejoin="miter"/>
<polygon points="597.8,1094.2 579.4,1107.0 587.0,1114.0 599.2,1095.6" fill="#000"/>
<polygon points="626.0,1095.0 646.4,1107.1 639.8,1115.0 625.3,1095.7" fill="none" stroke="#000" stroke-width="2.6" stroke-linejoin="miter"/>
<text transform="translate(476.0,1008.0) scale(1,1.045)" font-size="28.5" fill="#000" stroke="#000" stroke-width="0.4" text-anchor="middle">H</text>
<line x1="475.7" y1="1020.1" x2="475.7" y2="1039.3" stroke="#000" stroke-width="2.7"/>
</g>
<g transform="translate(0.0,0.0)">
<text transform="translate(569.3,890.0) scale(1,1.045)" font-size="28.5" fill="#000" stroke="#000" stroke-width="0.4" text-anchor="middle">O</text>
<text transform="translate(526.7,920.2) scale(1,1.045)" font-size="28.5" fill="#ff0000" stroke="#ff0000" stroke-width="0.4" text-anchor="middle">C</text>
<text transform="translate(440.6,949.7) scale(1,1.045)" font-size="28.5" fill="#000" stroke="#000" stroke-width="0.4">H<tspan font-size="21.5" dy="8.6">2</tspan><tspan dy="-8.6" dx="1.1">C</tspan></text>
<line x1="536.7" y1="900.0" x2="552.8" y2="890.3" stroke="#000" stroke-width="2.7"/>
<line x1="541.1" y1="909.0" x2="557.7" y2="898.7" stroke="#000" stroke-width="2.7"/>
<line x1="494.4" y1="930.5" x2="510.0" y2="920.5" stroke="#000" stroke-width="2.7"/>
<line x1="499.3" y1="939.0" x2="515.0" y2="929.0" stroke="#000" stroke-width="2.7"/>
</g>
<text x="424.0" y="1137.1" font-size="28.2" letter-spacing="0.38" fill="#000" stroke="#000" stroke-width="0.4">12MR channel</text>
<text x="661.4" y="1001.4" font-size="28.2" letter-spacing="0.45" fill="#000" stroke="#000" stroke-width="0.4">ketene</text>
<text x="661.4" y="1035.2" font-size="28.2" letter-spacing="0.4" fill="#000" stroke="#000" stroke-width="0.4">diffusion</text>
<g transform="translate(755.1,1061.4) rotate(0.00)">
<line x1="-86.0" y1="0" x2="-30" y2="0" stroke="#000" stroke-width="3.0"/>
<path d="M0,0 L-43.4,-11.4 Q-37.7,-6.1 -38,0 Q-37.7,6.1 -43.4,11.4 Z" fill="#000"/>
</g>
<g transform="translate(379.0,2.4)">
<text transform="translate(417.9,1086.5) scale(1,1.045)" font-size="28.5" fill="#000" stroke="#000" stroke-width="0.4">Si</text>
<text transform="translate(475.9,1060.7) scale(1,1.045)" font-size="28.5" fill="#000" stroke="#000" stroke-width="0.4" text-anchor="middle">O</text>
<text transform="translate(509.0,1086.5) scale(1,1.045)" font-size="28.5" fill="#000" stroke="#000" stroke-width="0.4">Al</text>
<text transform="translate(565.9,1060.7) scale(1,1.045)" font-size="28.5" fill="#000" stroke="#000" stroke-width="0.4" text-anchor="middle">O</text>
<text transform="translate(598.5,1086.5) scale(1,1.045)" font-size="28.5" fill="#000" stroke="#000" stroke-width="0.4">Si</text>
<line x1="385.8" y1="1054.8" x2="414.0" y2="1071.6" stroke="#000" stroke-width="2.7"/>
<line x1="447.0" y1="1071.0" x2="461.5" y2="1063.0" stroke="#000" stroke-width="2.7"/>
<line x1="489.0" y1="1062.8" x2="507.0" y2="1073.0" stroke="#000" stroke-width="2.7"/>
<line x1="537.5" y1="1071.3" x2="551.8" y2="1063.2" stroke="#000" stroke-width="2.7"/>
<line x1="579.4" y1="1062.8" x2="594.5" y2="1071.3" stroke="#000" stroke-width="2.7"/>
<line x1="627.7" y1="1070.9" x2="655.9" y2="1055.0" stroke="#000" stroke-width="2.7"/>
<polygon points="414.2,1091.1 386.1,1104.0 392.1,1112.6 415.2,1092.7" fill="#000"/>
<polygon points="445.8,1093.4 465.2,1104.2 458.6,1112.4 445.1,1094.1" fill="none" stroke="#000" stroke-width="2.6" stroke-linejoin="miter"/>
<polygon points="502.3,1093.1 479.7,1104.6 486.8,1113.4 503.5,1094.7" fill="#000"/>
<polygon points="537.4,1093.3 561.3,1107.2 555.2,1115.0 536.8,1094.1" fill="none" stroke="#000" stroke-width="2.6" stroke-linejoin="miter"/>
<polygon points="597.8,1094.2 579.4,1107.0 587.0,1114.0 599.2,1095.6" fill="#000"/>
<polygon points="626.0,1095.0 646.4,1107.1 639.8,1115.0 625.3,1095.7" fill="none" stroke="#000" stroke-width="2.6" stroke-linejoin="miter"/>
<text transform="translate(476.0,1008.0) scale(1,1.045)" font-size="28.5" fill="#000" stroke="#000" stroke-width="0.4" text-anchor="middle">H</text>
<line x1="475.7" y1="1020.1" x2="475.7" y2="1039.3" stroke="#000" stroke-width="2.7"/>
</g>
<g transform="translate(383.7,-2.2)">
<text transform="translate(569.3,890.0) scale(1,1.045)" font-size="28.5" fill="#000" stroke="#000" stroke-width="0.4" text-anchor="middle">O</text>
<text transform="translate(526.7,920.2) scale(1,1.045)" font-size="28.5" fill="#ff0000" stroke="#ff0000" stroke-width="0.4" text-anchor="middle">C</text>
<text transform="translate(440.6,949.7) scale(1,1.045)" font-size="28.5" fill="#000" stroke="#000" stroke-width="0.4">H<tspan font-size="21.5" dy="8.6">2</tspan><tspan dy="-8.6" dx="1.1">C</tspan></text>
<line x1="536.7" y1="900.0" x2="552.8" y2="890.3" stroke="#000" stroke-width="2.7"/>
<line x1="541.1" y1="909.0" x2="557.7" y2="898.7" stroke="#000" stroke-width="2.7"/>
<line x1="494.4" y1="930.5" x2="510.0" y2="920.5" stroke="#000" stroke-width="2.7"/>
<line x1="499.3" y1="939.0" x2="515.0" y2="929.0" stroke="#000" stroke-width="2.7"/>
</g>
<text x="809.3" y="1137.5" font-size="28.2" letter-spacing="0.38" fill="#000" stroke="#000" stroke-width="0.4">8MR channel</text>
<g transform="translate(1176.8,972.3) rotate(-28.37)">
<line x1="-152.2" y1="0" x2="-30" y2="0" stroke="#000" stroke-width="3.0"/>
<path d="M0,0 L-43.4,-11.4 Q-37.7,-6.1 -38,0 Q-37.7,6.1 -43.4,11.4 Z" fill="#000"/>
</g>
<g transform="translate(1174.7,1187.2) rotate(31.60)">
<line x1="-153.4" y1="0" x2="-30" y2="0" stroke="#000" stroke-width="3.0"/>
<path d="M0,0 L-43.4,-11.4 Q-37.7,-6.1 -38,0 Q-37.7,6.1 -43.4,11.4 Z" fill="#000"/>
</g>
<g transform="translate(811.0,-143.5)">
<text transform="translate(417.9,1086.5) scale(1,1.045)" font-size="28.5" fill="#000" stroke="#000" stroke-width="0.4">Si</text>
<text transform="translate(475.9,1060.7) scale(1,1.045)" font-size="28.5" fill="#000" stroke="#000" stroke-width="0.4" text-anchor="middle">O</text>
<text transform="translate(509.0,1086.5) scale(1,1.045)" font-size="28.5" fill="#000" stroke="#000" stroke-width="0.4">Al</text>
<text transform="translate(565.9,1060.7) scale(1,1.045)" font-size="28.5" fill="#000" stroke="#000" stroke-width="0.4" text-anchor="middle">O</text>
<text transform="translate(598.5,1086.5) scale(1,1.045)" font-size="28.5" fill="#000" stroke="#000" stroke-width="0.4">Si</text>
<line x1="385.8" y1="1054.8" x2="414.0" y2="1071.6" stroke="#000" stroke-width="2.7"/>
<line x1="447.0" y1="1071.0" x2="461.5" y2="1063.0" stroke="#000" stroke-width="2.7"/>
<line x1="489.0" y1="1062.8" x2="507.0" y2="1073.0" stroke="#000" stroke-width="2.7"/>
<line x1="537.5" y1="1071.3" x2="551.8" y2="1063.2" stroke="#000" stroke-width="2.7"/>
<line x1="579.4" y1="1062.8" x2="594.5" y2="1071.3" stroke="#000" stroke-width="2.7"/>
<line x1="627.7" y1="1070.9" x2="655.9" y2="1055.0" stroke="#000" stroke-width="2.7"/>
<polygon points="414.2,1091.1 386.1,1104.0 392.1,1112.6 415.2,1092.7" fill="#000"/>
<polygon points="445.8,1093.4 465.2,1104.2 458.6,1112.4 445.1,1094.1" fill="none" stroke="#000" stroke-width="2.6" stroke-linejoin="miter"/>
<polygon points="502.3,1093.1 479.7,1104.6 486.8,1113.4 503.5,1094.7" fill="#000"/>
<polygon points="537.4,1093.3 561.3,1107.2 555.2,1115.0 536.8,1094.1" fill="none" stroke="#000" stroke-width="2.6" stroke-linejoin="miter"/>
<polygon points="597.8,1094.2 579.4,1107.0 587.0,1114.0 599.2,1095.6" fill="#000"/>
<polygon points="626.0,1095.0 646.4,1107.1 639.8,1115.0 625.3,1095.7" fill="none" stroke="#000" stroke-width="2.6" stroke-linejoin="miter"/>
</g>
<circle cx="1331.6" cy="903.8" r="10.4" fill="none" stroke="#000" stroke-width="2.2"/>
<line x1="1325.2" y1="904.0" x2="1338.0" y2="904.0" stroke="#000" stroke-width="2.2"/>
<text transform="translate(1320.2,767.3) scale(1,1.045)" font-size="28.5" fill="#000" stroke="#000" stroke-width="0.4" text-anchor="middle">O</text>
<line x1="1315.3" y1="778.2" x2="1315.3" y2="798.6" stroke="#000" stroke-width="2.7"/>
<line x1="1324.7" y1="778.2" x2="1324.7" y2="798.6" stroke="#000" stroke-width="2.7"/>
<text transform="translate(1319.9,819.4) scale(1,1.045)" font-size="28.5" fill="#ff0000" stroke="#ff0000" stroke-width="0.4" text-anchor="middle">C</text>
<circle cx="1344.3" cy="816.4" r="10.4" fill="none" stroke="#000" stroke-width="2.2"/>
<line x1="1338.0" y1="816.3" x2="1350.6" y2="816.3" stroke="#000" stroke-width="2.1"/>
<line x1="1344.3" y1="810.1" x2="1344.3" y2="822.5" stroke="#000" stroke-width="2.1"/>
<line x1="1319.9" y1="830.0" x2="1319.7" y2="849.9" stroke="#000" stroke-width="2.7"/>
<text transform="translate(1308.9,871.2) scale(1,1.045)" font-size="28.5" fill="#000" stroke="#000" stroke-width="0.4">C<tspan dx="0.6">H</tspan><tspan font-size="21.5" dy="7.8" dx="0.9">3</tspan></text>
<text x="1131.8" y="816.1" font-size="28.5" fill="#0000ff" stroke="#0000ff" stroke-width="0.4"><tspan font-style="italic">calc.</tspan><tspan dx="1" dy="0.3">167 </tspan><tspan dy="2.4">ppm</tspan></text>
<text x="1260.6" y="989.9" font-size="28.2" letter-spacing="0.4" stroke="#000" stroke-width="0.4">side <tspan dy="2.8">pocket</tspan></text>
<text x="1277.8" y="1019.1" font-size="28.4" letter-spacing="0.2" fill="#ff0000" stroke="#ff0000" stroke-width="0.4">168 <tspan dy="2.6">ppm</tspan></text>
<line x1="1314.6" y1="1106.9" x2="1314.6" y2="1040.0" stroke="#000" stroke-width="3.2"/>
<polygon points="1316.2,1029 1306.9,1057.6 1313.2,1054.6 1316.2,1054" fill="#000"/>
<line x1="1323.4" y1="1033.1" x2="1323.4" y2="1098.0" stroke="#000" stroke-width="3.0"/>
<polygon points="1321.9,1108.8 1330.7,1082.4 1324.9,1085.3 1321.9,1086" fill="#000"/>
<g transform="translate(809.4,144.6)">
<text transform="translate(417.9,1086.5) scale(1,1.045)" font-size="28.5" fill="#000" stroke="#000" stroke-width="0.4">Si</text>
<text transform="translate(475.9,1060.7) scale(1,1.045)" font-size="28.5" fill="#000" stroke="#000" stroke-width="0.4" text-anchor="middle">O</text>
<text transform="translate(509.0,1086.5) scale(1,1.045)" font-size="28.5" fill="#000" stroke="#000" stroke-width="0.4">Al</text>
<text transform="translate(565.9,1060.7) scale(1,1.045)" font-size="28.5" fill="#000" stroke="#000" stroke-width="0.4" text-anchor="middle">O</text>
<text transform="translate(598.5,1086.5) scale(1,1.045)" font-size="28.5" fill="#000" stroke="#000" stroke-width="0.4">Si</text>
<line x1="385.8" y1="1054.8" x2="414.0" y2="1071.6" stroke="#000" stroke-width="2.7"/>
<line x1="447.0" y1="1071.0" x2="461.5" y2="1063.0" stroke="#000" stroke-width="2.7"/>
<line x1="489.0" y1="1062.8" x2="507.0" y2="1073.0" stroke="#000" stroke-width="2.7"/>
<line x1="537.5" y1="1071.3" x2="551.8" y2="1063.2" stroke="#000" stroke-width="2.7"/>
<line x1="579.4" y1="1062.8" x2="594.5" y2="1071.3" stroke="#000" stroke-width="2.7"/>
<line x1="627.7" y1="1070.9" x2="655.9" y2="1055.0" stroke="#000" stroke-width="2.7"/>
<polygon points="414.2,1091.1 386.1,1104.0 392.1,1112.6 415.2,1092.7" fill="#000"/>
<polygon points="445.8,1093.4 465.2,1104.2 458.6,1112.4 445.1,1094.1" fill="none" stroke="#000" stroke-width="2.6" stroke-linejoin="miter"/>
<polygon points="502.3,1093.1 479.7,1104.6 486.8,1113.4 503.5,1094.7" fill="#000"/>
<polygon points="537.4,1093.3 561.3,1107.2 555.2,1115.0 536.8,1094.1" fill="none" stroke="#000" stroke-width="2.6" stroke-linejoin="miter"/>
<polygon points="597.8,1094.2 579.4,1107.0 587.0,1114.0 599.2,1095.6" fill="#000"/>
<polygon points="626.0,1095.0 646.4,1107.1 639.8,1115.0 625.3,1095.7" fill="none" stroke="#000" stroke-width="2.6" stroke-linejoin="miter"/>
</g>
<g transform="translate(1184.4,147.2)">
<text transform="translate(101.0,1006.2) scale(1,1.045)" font-size="28.5" fill="#ff0000" stroke="#ff0000" stroke-width="0.4" text-anchor="middle">C</text>
<text transform="translate(146.0,980.0) scale(1,1.045)" font-size="28.5" fill="#000" stroke="#000" stroke-width="0.4" text-anchor="middle">O</text>
<text transform="translate(11.4,979.3) scale(1,1.045)" font-size="28.5" fill="#000" stroke="#000" stroke-width="0.4">H<tspan font-size="21.5" dy="8.6" dx="0.4">3</tspan><tspan dy="-8.6" dx="0.9">C</tspan></text>
<line x1="69.5" y1="982.3" x2="87.6" y2="992.8" stroke="#000" stroke-width="2.7"/>
<line x1="111.7" y1="988.3" x2="128.9" y2="978.7" stroke="#000" stroke-width="2.7"/>
<line x1="115.8" y1="997.0" x2="133.3" y2="987.3" stroke="#000" stroke-width="2.7"/>
<line x1="100.7" y1="1017.5" x2="100.7" y2="1036.6" stroke="#000" stroke-width="2.7"/>
</g>
<text x="1241.6" y="1277.4" font-size="28.2" letter-spacing="0.38" fill="#000" stroke="#000" stroke-width="0.4">8MR channel</text>
<text x="1272.4" y="1307.6" font-size="28.4" letter-spacing="0.2" fill="#ff0000" stroke="#ff0000" stroke-width="0.4">187 <tspan dy="2.6">ppm</tspan></text>
</g>
</g>
</svg>
</body></html>
